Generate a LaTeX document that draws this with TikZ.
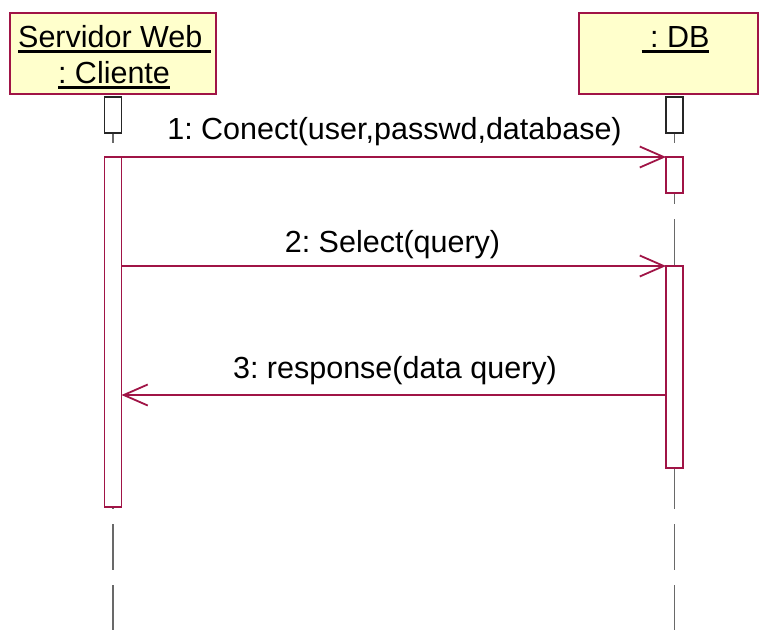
\documentclass[tikz,border=0pt]{standalone}
\usepackage{fontspec}
\setmainfont{Liberation Sans}
\usepackage{tikz}
\usetikzlibrary{arrows.meta}
\usepackage{xcolor}
\definecolor{umlred}{RGB}{160,20,70}
\definecolor{umlfill}{RGB}{255,255,204}
\definecolor{lifegray}{RGB}{105,105,105}
\newcommand\ulbox[1]{\setbox0\hbox{#1}\rlap{\rule[-5.5pt]{\wd0}{2.5pt}}\box0}
\frenchspacing

\begin{document}
\begin{tikzpicture}[x=1pt,y=-1pt,
  obj/.style={draw=umlred,fill=umlfill,line width=1.1pt,outer sep=0pt},
  act/.style={draw=umlred,fill=white,line width=1.1pt,outer sep=0pt,minimum width=17pt,anchor=north,inner sep=0pt},
  focusbox/.style={draw=black!85,fill=white,line width=1.1pt,outer sep=0pt,minimum width=17pt,minimum height=36pt,anchor=north,inner sep=0pt},
  life/.style={draw=lifegray,line width=1.5pt,dash pattern=on 46pt off 15pt},
  msg/.style={draw=umlred,line width=1.1pt,-{Straight Barb[length=24pt,width=21pt,line width=1.8pt]}},
  lbl/.style={font=\fontsize{30.5}{36}\selectfont,inner sep=0pt,anchor=base}]
\useasboundingbox (0,0) rectangle (759,630);
% objects
\node[obj,minimum width=206pt,minimum height=81pt] (cli) at (113,53.5) {};
\node[obj,minimum width=179pt,minimum height=81pt] (db) at (668.5,53.5) {};
\node[lbl] (clitxt) at (114.5,47) {\ulbox{Servidor Web\ }};
\node[lbl] (clitxtb) at (114,83) {\ulbox{: Cliente}};
\node[lbl] (dbtxt) at (675.5,47) {\ulbox{\ : DB}};
% lifelines
\draw[life] (113,97) -- (113,630);
\draw[life] (674.5,97) -- (674.5,630);
\node[focusbox] (clif) at (113,97) {};
\node[focusbox] (dbf) at (674.5,97) {};
% activations
\node[act,minimum height=350pt] (clia) at (113,157) {};
\node[act,minimum height=36pt] (dba) at (674.5,157) {};
\node[act,minimum height=202pt] (dbb) at (674.5,266) {};
% messages
\coordinate (ret) at (666,395);
\draw[msg] (clia.north east) -- (dba.north west);
\draw[msg] (clia.east |- dbb.north) -- (dbb.north west);
\draw[msg] (ret) -- (clia.east |- ret);
\node[lbl] (m1) at (394.5,139) {1: Conect(user,passwd,database)};
\node[lbl] (m2) at (392.5,252) {2: Select(query)};
\node[lbl] (m3) at (395,378) {3: response(data query)};
\end{tikzpicture}
\end{document}
